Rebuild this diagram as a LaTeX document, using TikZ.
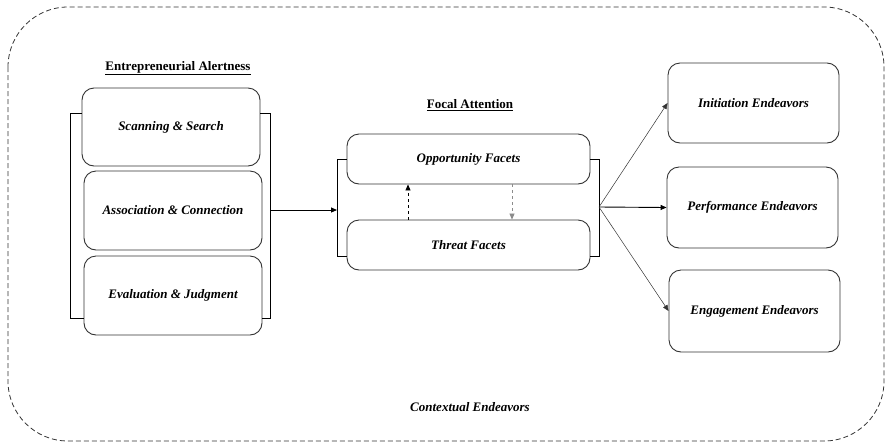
\documentclass[tikz,border=0pt]{standalone}
\usepackage{fontspec}
\setmainfont{Liberation Serif}
\usepackage{tikz}
\usetikzlibrary{arrows.meta}

\begin{document}
\begin{tikzpicture}[x=1pt, y=-1pt,
  title/.style={font=\fontsize{13}{13}\selectfont\bfseries},
  box/.style={rectangle, draw=black!80, line width=0.9pt, rounded corners=12pt, inner sep=0pt, font=\fontsize{13}{13}\selectfont\bfseries\itshape},
  tip/.style={-{Triangle[length=6pt,width=5pt]}}]
\useasboundingbox (0,0) rectangle (888,445);
\draw [dashed, dash pattern=on 5pt off 3pt, draw=black!80, line width=0.8pt, rounded corners=60pt] (8,7) rectangle (884,441);

\node (ea) at (178, 68) [title] {\underline{Entrepreneurial Alertness}};
\node (scan) at (171, 127) [box, minimum width=178pt, minimum height=78pt] {Scanning \& Search};
\node (assoc) at (173, 210.5) [box, minimum width=178pt, minimum height=79pt] {Association \& Connection};
\node (eval) at (173, 295.5) [box, minimum width=178pt, minimum height=79pt] {Evaluation \& Judgment};

\node (fa) at (470, 105) [title] {\underline{Focal Attention}};
\node (opp) at (468.5, 159) [box, minimum width=243pt, minimum height=50pt] {Opportunity Facets};
\node (threat) at (468.5, 245) [box, minimum width=243pt, minimum height=50pt] {Threat Facets};

\node (init) at (753.5, 103) [box, minimum width=171pt, minimum height=80pt] {Initiation Endeavors};
\node (perf) at (752.5, 207.5) [box, minimum width=171pt, minimum height=81pt] {Performance Endeavors};
\node (eng) at (754.5, 311) [box, minimum width=171pt, minimum height=82pt] {Engagement Endeavors};

\node (ctx) at (470, 407) [box, draw=none] {Contextual Endeavors};

\coordinate (lt) at (70, 113);
\coordinate (lb) at (70, 318);
\coordinate (rt) at (270, 113);
\coordinate (rb) at (270, 318);
\coordinate (rm) at (270, 210);
\coordinate (flt) at (337, 159);
\coordinate (flb) at (337, 256);
\coordinate (flm) at (337, 210);
\coordinate (frt) at (599, 159);
\coordinate (frb) at (599, 256);
\coordinate (frm) at (599, 207);

\draw [line width=0.9pt] (lt -| scan.west) -- (lt) -- (lb) -- (lb -| eval.west);
\draw [line width=0.9pt] (rt -| scan.east) -- (rt) -- (rb) -- (rb -| eval.east);
\draw [line width=0.9pt] (flt -| opp.west) -- (flt) -- (flb) -- (flb -| threat.west);
\draw [line width=0.9pt] (frt -| opp.east) -- (frt) -- (frb) -- (frb -| threat.east);

\draw [tip, line width=0.9pt] (rm) -- (flm);
\draw [tip, dashed, line width=0.7pt] ([xshift=-60.5pt]threat.north) -- ([xshift=-60.5pt]opp.south);
\draw [tip, dashed, draw=black!45, line width=0.7pt] ([xshift=43.5pt]opp.south) -- ([xshift=43.5pt]threat.north);

\draw [tip, line width=0.5pt, draw=black!80] (frm) -- (init.west);
\draw [tip, line width=0.9pt] (frm) -- (perf.west);
\draw [tip, line width=0.5pt, draw=black!80] (frm) -- (eng.west);
\end{tikzpicture}
\end{document}
